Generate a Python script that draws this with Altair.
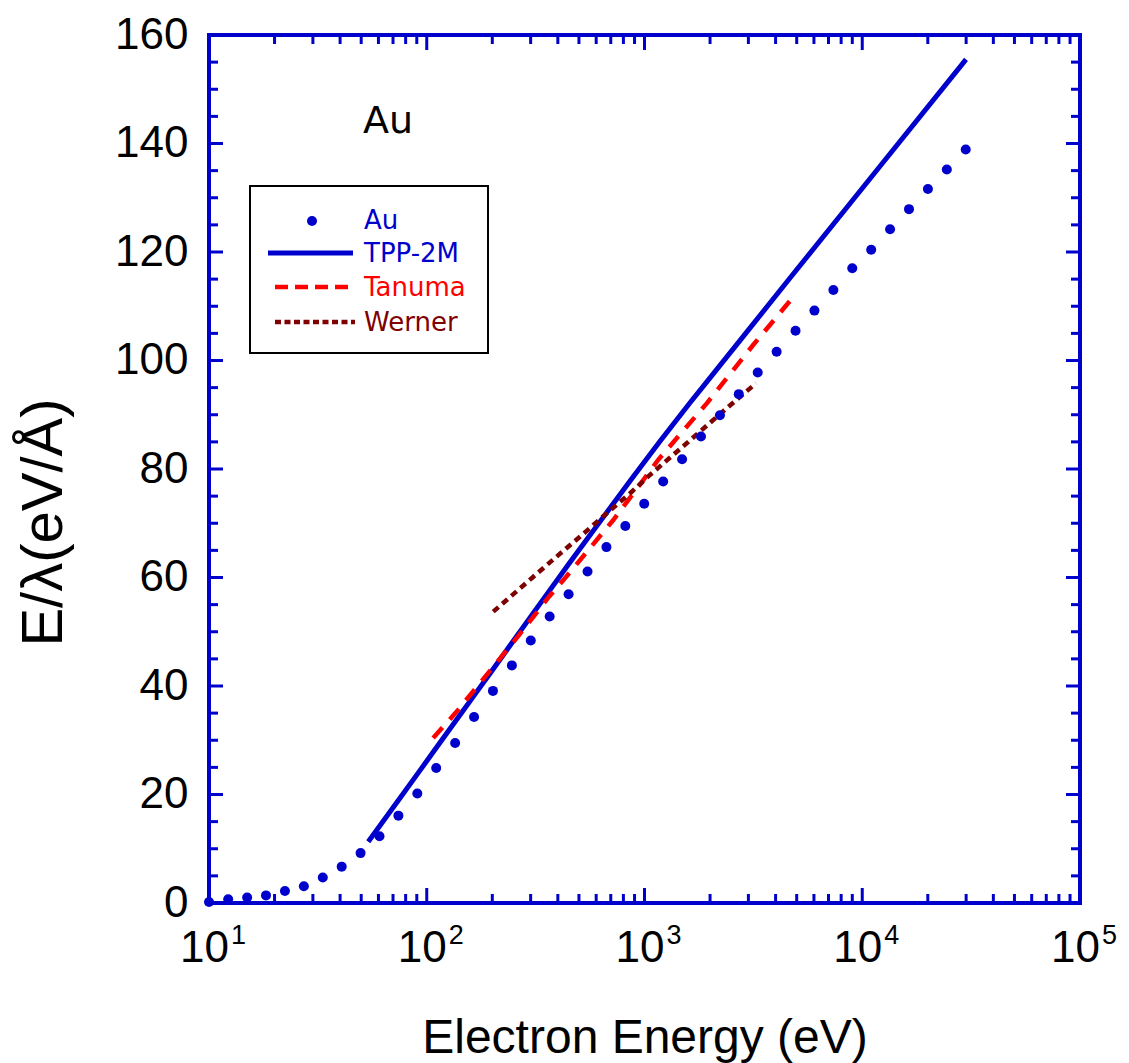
import altair as alt
import pandas as pd

# ---------------- data ----------------
au_E = [10, 12.25, 14.97, 18.27, 22.32, 27.27, 33.31, 40.68, 49.68, 60.68,
        74.1, 90.5, 110.5, 135, 164.9, 201.4, 246, 300.4, 366.9, 448.1,
        547.4, 668.6, 816.6, 997, 1218, 1488, 1817, 2220, 2710, 3311,
        4044, 4939, 6032, 7368, 8999, 10990, 13420, 16395, 20025, 24455, 29870]
au_v = [0.2, 0.7, 1.0, 1.4, 2.2, 3.1, 4.7, 6.7, 9.2, 12.3,
        16.1, 20.2, 24.9, 29.5, 34.3, 39.1, 43.8, 48.4, 52.8, 56.9,
        61.1, 65.6, 69.5, 73.6, 77.7, 81.8, 86.0, 89.9, 93.8, 97.8,
        101.6, 105.5, 109.2, 113.0, 117.0, 120.4, 124.2, 127.9, 131.6, 135.2, 138.9]

tpp_E = [53.9, 75.4, 103.5, 142.1, 195.2, 298.0, 454.9, 624.8, 858,
         1178, 1618, 2222, 4658, 12065, 29960]
tpp_v = [11.3, 19.35, 27.0, 34.65, 42.3, 52.6, 62.8, 70.3, 77.8,
         85.1, 92.2, 99.1, 115.2, 135.8, 155.5]

tan_E = [107, 136, 188, 263, 365, 432, 719, 989, 1156, 1932, 3161, 4660]
tan_v = [30.4, 35.1, 42.0, 49.2, 56.5, 59.9, 70.6, 78.0, 81.7, 92.1, 102.9, 111.0]

wer_E = [202, 308, 378, 515, 643, 874, 1059, 1429, 1799, 2399, 3251]
wer_v = [53.7, 60.1, 63.2, 67.8, 71.2, 75.8, 78.9, 83.4, 86.9, 91.3, 95.8]

x_major = [10, 100, 1000, 10000, 100000]
x_exp = ["1", "2", "3", "4", "5"]
x_minor = [20, 30, 40, 50, 60, 70, 80, 90,
           200, 300, 400, 500, 600, 700, 800, 900,
           2000, 3000, 4000, 5000, 6000, 7000, 8000, 9000,
           20000, 30000, 40000, 50000, 60000, 70000, 80000, 90000]
y_major = [0, 20, 40, 60, 80, 100, 120, 140, 160]
y_minor = [5, 10, 15, 25, 30, 35, 45, 50, 55, 65, 70, 75, 85, 90, 95,
           105, 110, 115, 125, 130, 135, 145, 150, 155]

legend_labels = ["Au", "TPP-2M", "Tanuma", "Werner"]

# ---------------- styling ----------------
W, H = 871, 868
BLUE = "#0000CC"
RED = "#FF0000"
BROWN = "#7F0000"
FONT = "Liberation Sans"
LFONT = "DejaVu Sans"

xscale = alt.Scale(type="log", domain=[10, 100000], nice=False)
yscale = alt.Scale(domain=[0, 160], nice=False, zero=False)

au = pd.DataFrame({"E": au_E, "v": au_v})
tpp = pd.DataFrame({"E": tpp_E, "v": tpp_v})
tan = pd.DataFrame({"E": tan_E, "v": tan_v})
wer = pd.DataFrame({"E": wer_E, "v": wer_v})

xax = alt.Axis(title="Electron Energy (eV)", labels=False, ticks=False, tickSize=0,
               domain=False, grid=False, titleFontSize=48, titleFont=FONT,
               titleFontWeight="normal", titleColor="black",
               titleBaseline="alphabetic", titleY=149)
yax = alt.Axis(title="E/λ(eV/Å)", values=y_major, ticks=False, tickSize=0,
               domain=False, grid=False, labelFontSize=44, labelFont=FONT,
               labelColor="black", labelPadding=21, titleFontSize=58,
               titleFont=FONT, titleFontWeight="normal", titleColor="black",
               titleAngle=270, titleBaseline="alphabetic", titleAlign="center",
               titleX=-148, titleY=487)

tpp_line = alt.Chart(tpp).mark_line(color=BLUE, strokeWidth=5, interpolate="monotone").encode(
    x=alt.X("E:Q", scale=xscale, axis=xax),
    y=alt.Y("v:Q", scale=yscale, axis=yax))
tan_line = alt.Chart(tan).mark_line(color=RED, strokeWidth=4.5, strokeDash=[14, 11]).encode(
    x=alt.X("E:Q", scale=xscale), y=alt.Y("v:Q", scale=yscale))
wer_line = alt.Chart(wer).mark_line(color=BROWN, strokeWidth=4.5, strokeDash=[7, 5]).encode(
    x=alt.X("E:Q", scale=xscale), y=alt.Y("v:Q", scale=yscale))
dots = alt.Chart(au).mark_circle(size=100, color=BLUE, opacity=1).encode(
    x=alt.X("E:Q", scale=xscale), y=alt.Y("v:Q", scale=yscale))

# ---------------- frame and inward ticks on all four sides ----------------
one = alt.Data(values=[{"a": 1}])
frame = alt.Chart(one).mark_rect(fill=None, stroke=BLUE, strokeWidth=4).encode(
    x=alt.value(0), x2=alt.value(W), y=alt.value(0), y2=alt.value(H))

def xticks(vals, length):
    df = pd.DataFrame({"t": vals})
    bot = alt.Chart(df).mark_rule(color=BLUE, strokeWidth=3).encode(
        x=alt.X("t:Q", scale=xscale), y=alt.value(H), y2=alt.value(H - length))
    top = alt.Chart(df).mark_rule(color=BLUE, strokeWidth=3).encode(
        x=alt.X("t:Q", scale=xscale), y=alt.value(0), y2=alt.value(length))
    return [bot, top]

def yticks(vals, length):
    df = pd.DataFrame({"t": vals})
    left = alt.Chart(df).mark_rule(color=BLUE, strokeWidth=3).encode(
        y=alt.Y("t:Q", scale=yscale), x=alt.value(0), x2=alt.value(length))
    right = alt.Chart(df).mark_rule(color=BLUE, strokeWidth=3).encode(
        y=alt.Y("t:Q", scale=yscale), x=alt.value(W), x2=alt.value(W - length))
    return [left, right]

ticks = xticks(x_major, 15) + xticks(x_minor, 9) + yticks(y_major, 14) + yticks(y_minor, 9)

# ---------------- x tick labels 10^n ----------------
xl = pd.DataFrame({"t": x_major, "e": x_exp})
base_lab = alt.Chart(xl).mark_text(text="10", align="right", baseline="alphabetic", dx=20,
                                   fontSize=44, font=FONT, color="black").encode(
    x=alt.X("t:Q", scale=xscale), y=alt.value(H + 59))
exp_lab = alt.Chart(xl).mark_text(align="left", baseline="alphabetic", dx=22,
                                  fontSize=27, font=FONT, color="black").encode(
    x=alt.X("t:Q", scale=xscale), y=alt.value(H + 41), text="e:N")

# ---------------- annotation and legend ----------------
au_note = alt.Chart(one).mark_text(text="Au", fontSize=38, font=LFONT, color="black",
                                   align="center", baseline="middle").encode(
    x=alt.value(179), y=alt.value(87))

leg_box = alt.Chart(one).mark_rect(fill="white", stroke="black", strokeWidth=2).encode(
    x=alt.value(41), x2=alt.value(279), y=alt.value(151), y2=alt.value(318))
leg_dot = alt.Chart(one).mark_circle(size=100, color=BLUE, opacity=1).encode(
    x=alt.value(103), y=alt.value(186))
leg_tpp = alt.Chart(one).mark_rule(color=BLUE, strokeWidth=5).encode(
    x=alt.value(59), x2=alt.value(144), y=alt.value(218))
leg_tan = alt.Chart(one).mark_rule(color=RED, strokeWidth=4.5, strokeDash=[13, 7]).encode(
    x=alt.value(66), x2=alt.value(146), y=alt.value(252))
leg_wer = alt.Chart(one).mark_rule(color=BROWN, strokeWidth=4.5, strokeDash=[6, 3.5]).encode(
    x=alt.value(66), x2=alt.value(146), y=alt.value(287))

leg_colors = [BLUE, BLUE, RED, BROWN]
leg_ys = [186, 219, 253, 288]
leg_texts = []
for lab, col, yy in zip(legend_labels, leg_colors, leg_ys):
    leg_texts.append(alt.Chart(one).mark_text(text=lab, fontSize=26, font=LFONT, color=col,
                                              align="left", baseline="middle").encode(
        x=alt.value(155), y=alt.value(yy)))

chart = alt.layer(
    tpp_line, tan_line, wer_line, dots, frame, *ticks, base_lab, exp_lab, au_note,
    leg_box, leg_dot, leg_tpp, leg_tan, leg_wer, *leg_texts
).properties(
    width=W, height=H,
    autosize=alt.AutoSizeParams(type="none"),
    padding={"left": 201, "top": 27, "right": 40, "bottom": 162},
).configure_view(stroke=None).configure(background="white")

chart.save("out.html", embed_options={"renderer": "svg", "actions": False})
